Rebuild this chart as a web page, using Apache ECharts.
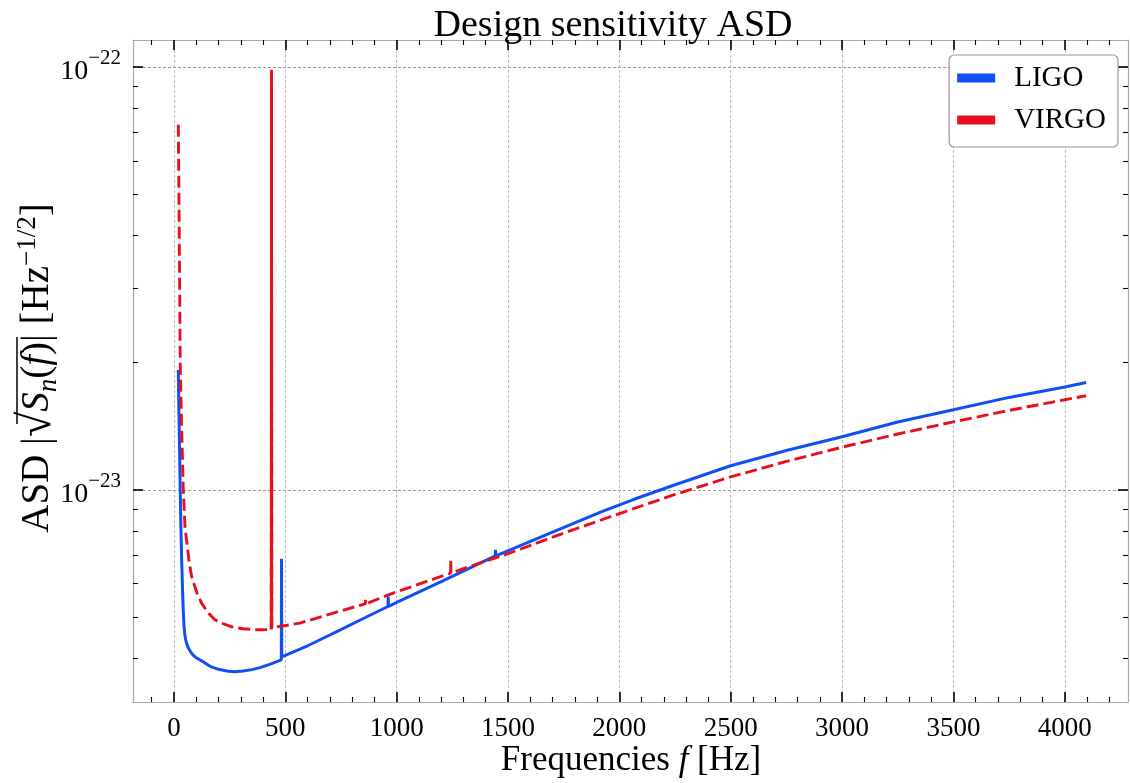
<!DOCTYPE html>
<html><head><meta charset="utf-8">
<script src="https://cdn.jsdelivr.net/npm/echarts@6/dist/echarts.min.js"></script>
<style>html,body{margin:0;padding:0;background:#fff}#c{width:1130px;height:783px}</style>
</head><body><div id="c"></div>
<script>
// ---- data (frequencies in Hz, ASD in units of 1e-23 Hz^-1/2) ----
const ASD_UNIT = 1e-23;
const ligoFreq = [19.5, 22, 25, 28, 31, 34.5, 39, 42, 45, 48, 52, 58, 64, 75, 85, 100, 124, 162, 200, 237, 270, 310, 350, 386, 430, 482, 483, 484, 600, 745, 850, 961, 962, 963, 1000, 1200, 1443, 1444, 1445, 1700, 1924, 1925, 1926, 2060, 2250, 2500, 2750, 3000, 3250, 3500, 3750, 4000, 4096];
const ligoASD  = [1.92, 1.55, 1.25, 1.00, 0.82, 0.683, 0.569, 0.515, 0.478, 0.458, 0.4435, 0.4310, 0.4228, 0.4137, 0.4071, 0.4005, 0.3939, 0.3823, 0.3761, 0.3725, 0.3711, 0.3725, 0.3755, 0.3796, 0.3864, 0.3961, 0.687, 0.4026, 0.4276, 0.4657, 0.496, 0.5296, 0.559, 0.5296, 0.5416, 0.6063, 0.698, 0.721, 0.698, 0.7936, 0.8887, 0.897, 0.8887, 0.947, 1.028, 1.14, 1.239, 1.335, 1.447, 1.546, 1.654, 1.75, 1.794];
const virgoFreq = [19.5, 22, 24, 26, 28, 34.5, 42, 49.4, 60, 67, 79, 103, 124, 153, 184, 214, 260, 310, 377, 437, 438, 439, 565, 715, 859, 860, 861, 984, 1242, 1243, 1244, 1403, 1500, 1750, 2092, 2250, 2500, 2750, 3000, 3250, 3500, 3750, 4000, 4096];
const virgoASD  = [7.30, 5.2, 3.83, 2.8, 2.0, 1.387, 1.0, 0.819, 0.734, 0.683, 0.6236, 0.5706, 0.5395, 0.5117, 0.4925, 0.4837, 0.474, 0.469, 0.4665, 0.4672, 9.85, 0.4716, 0.4837, 0.5109, 0.5373, 0.549, 0.5373, 0.5697, 0.635, 0.683, 0.636, 0.679, 0.706, 0.790, 0.913, 0.9747, 1.073, 1.167, 1.261, 1.355, 1.448, 1.541, 1.633, 1.669];
const virgoSpikeFreq = [437, 438, 439];   // the tall line near 438 Hz, drawn solid
const xTicks = [0, 500, 1000, 1500, 2000, 2500, 3000, 3500, 4000];
const xMinorTicks = [-100, 100, 200, 300, 400, 600, 700, 800, 900, 1100, 1200, 1300, 1400, 1600, 1700, 1800, 1900, 2100, 2200, 2300, 2400, 2600, 2700, 2800, 2900, 3100, 3200, 3300, 3400, 3600, 3700, 3800, 3900, 4100, 4200];
const yTickExp = [-23, -22];
const yMinorMantissa = [4, 5, 6, 7, 8, 9];   // times 1e-24
const yMinorMantissa2 = [2, 3, 4, 5, 6, 7, 8, 9]; // times 1e-23

const FONT = "'Liberation Serif', 'DejaVu Serif', serif";
const BLUE = '#0f4ff3', RED = '#e8101f';
const X_MIN = -184, X_MAX = 4284, Y_MIN = -23.502, Y_MAX = -21.936;

const toLog = v => Math.log10(v);
const ligoData = ligoFreq.map((f, i) => [f, toLog(ligoASD[i] * ASD_UNIT)]);
const virgoData = virgoFreq.map((f, i) => [f, toLog(virgoASD[i] * ASD_UNIT)]);
const virgoSpikeData = virgoData.filter(p => virgoSpikeFreq.indexOf(p[0]) >= 0);
const yMinorVals = yMinorMantissa.map(m => toLog(m * 1e-24)).concat(yMinorMantissa2.map(m => toLog(m * 1e-23)));

const frame = { show: true, onZero: false, lineStyle: { color: '#a8a8a8', width: 1.2 } };
const noLine = { show: false, onZero: false };
const majorTick = { show: true, inside: true, length: 10, lineStyle: { color: '#000', width: 1.6 } };
const minorTick = { show: true, inside: true, length: 5, lineStyle: { color: '#000', width: 1.1 } };

function xAx(pos, major, withLabel) {
  return {
    type: 'value', position: pos, min: X_MIN, max: X_MAX,
    axisLine: major ? frame : noLine,
    axisTick: Object.assign({}, major ? majorTick : minorTick, { customValues: major ? xTicks : xMinorTicks }),
    axisLabel: withLabel ? { show: true, customValues: xTicks, margin: 13, color: '#000', fontFamily: FONT, fontSize: 27, formatter: v => String(v) } : { show: false },
    splitLine: (major && withLabel) ? { show: true, lineStyle: { color: '#b4b4b4', type: [3, 2], width: 0.9 } } : { show: false }
  };
}
function yAx(pos, major, withLabel) {
  return {
    type: 'value', position: pos, min: Y_MIN, max: Y_MAX,
    axisLine: major ? frame : noLine,
    axisTick: Object.assign({}, major ? majorTick : minorTick, { customValues: major ? yTickExp : yMinorVals }),
    axisLabel: withLabel ? {
      show: true, customValues: yTickExp, margin: 12, color: '#000', fontFamily: FONT,
      formatter: v => '{b|10}{e|\u2212' + Math.round(-v) + '}',
      rich: { b: { fontSize: 28, fontFamily: FONT, color: '#000', lineHeight: 38, verticalAlign: 'bottom' },
              e: { fontSize: 21, fontFamily: FONT, color: '#000', lineHeight: 38, verticalAlign: 'top' } }
    } : { show: false },
    splitLine: (major && withLabel) ? { show: true, lineStyle: { color: '#8c8c8c', type: [3, 2], width: 0.9 } } : { show: false }
  };
}

const chart = echarts.init(document.getElementById('c'), null, { renderer: 'canvas' });
chart.setOption({
  animation: false,
  backgroundColor: '#fff',
  title: { text: 'Design sensitivity ASD', left: 608, top: 2, textAlign: 'center',
           textStyle: { fontFamily: FONT, fontSize: 38, fontWeight: 'normal', color: '#000' } },
  grid: { left: 133, right: 2, top: 40, bottom: 81, containLabel: false },
  xAxis: [xAx('bottom', true, true), xAx('bottom', false, false), xAx('top', true, false), xAx('top', false, false)],
  yAxis: [yAx('left', true, true), yAx('left', false, false), yAx('right', true, false), yAx('right', false, false)],
  legend: {
    orient: 'vertical', right: 12, top: 55, itemWidth: 38, itemHeight: 9, itemGap: 10,
    padding: [7, 12, 11, 8], borderColor: '#999', borderWidth: 1.2, borderRadius: 5, backgroundColor: '#fff',
    textStyle: { fontFamily: FONT, fontSize: 29, color: '#000', lineHeight: 32, padding: [0, 0, 0, 14] },
    data: [{ name: 'LIGO', icon: 'rect', itemStyle: { color: BLUE } },
           { name: 'VIRGO', icon: 'rect', itemStyle: { color: RED } }]
  },
  graphic: [
    { type: 'text', x: 631, y: 761, style: { text: '{n|Frequencies }{i|f}{n| [Hz]}', align: 'center', verticalAlign: 'middle', textAlign: 'center', textVerticalAlign: 'middle',
      rich: { n: { fontFamily: FONT, fontSize: 35, fill: '#000', color: '#000' }, i: { fontFamily: FONT, fontSize: 35, fontStyle: 'italic', fill: '#000', color: '#000' } } } },
    { type: 'text', x: 38, y: 368, rotation: Math.PI / 2, style: {
      text: '{n|ASD |}{r|\u221A}{i|S}{s|n}{n|(}{i|f}{n|)| [Hz}{p|\u22121/2}{n|]}', align: 'center', verticalAlign: 'middle', textAlign: 'center', textVerticalAlign: 'middle',
      rich: { n: { fontFamily: FONT, fontSize: 39, color: '#000', fill: '#000', lineHeight: 48 },
              r: { fontFamily: FONT, fontSize: 46, color: '#000', fill: '#000', lineHeight: 48 },
              i: { fontFamily: FONT, fontSize: 39, fontStyle: 'italic', color: '#000', fill: '#000', lineHeight: 48 },
              s: { fontFamily: FONT, fontSize: 27, fontStyle: 'italic', color: '#000', fill: '#000', lineHeight: 48, verticalAlign: 'bottom' },
              p: { fontFamily: FONT, fontSize: 27, color: '#000', fill: '#000', lineHeight: 48, verticalAlign: 'top' } } } },
    { type: 'line', shape: { x1: 17, y1: 337, x2: 17, y2: 424 }, style: { stroke: '#000', lineWidth: 1.5 } }
  ],
  series: [
    { name: 'LIGO', type: 'line', data: ligoData, xAxisIndex: 0, yAxisIndex: 0, showSymbol: false, symbol: 'none',
      lineStyle: { color: BLUE, width: 3 }, itemStyle: { color: BLUE }, z: 3 },
    { name: 'VIRGO', type: 'line', data: virgoData, xAxisIndex: 0, yAxisIndex: 0, showSymbol: false, symbol: 'none',
      lineStyle: { color: RED, width: 2.9, type: [12, 5] }, itemStyle: { color: RED }, z: 4 },
    { name: 'VIRGO', type: 'line', data: virgoSpikeData, xAxisIndex: 0, yAxisIndex: 0, showSymbol: false, symbol: 'none',
      lineStyle: { color: RED, width: 2.9 }, itemStyle: { color: RED }, z: 4 }
  ]
});
</script></body></html>
